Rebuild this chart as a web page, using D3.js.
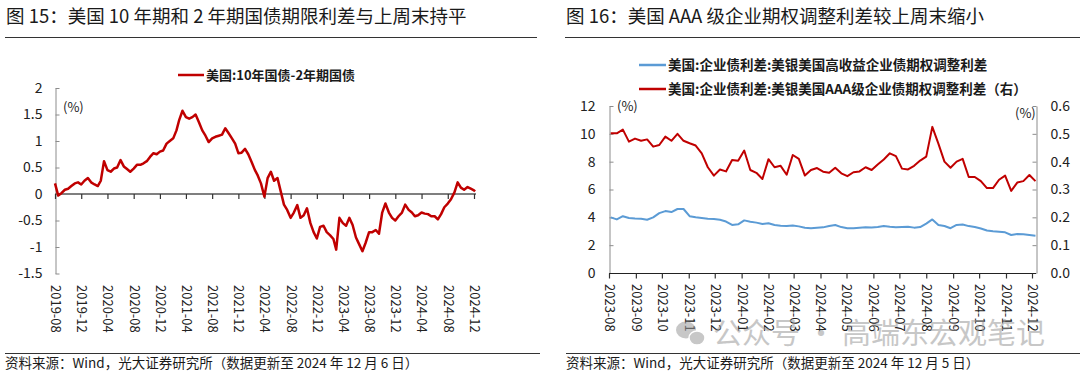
<!DOCTYPE html>
<html><head><meta charset="utf-8">
<script src="https://cdn.jsdelivr.net/npm/d3@7"></script>
<style>
body{margin:0;background:#fff}
svg{display:block}
text{font-family:"Noto Sans CJK SC","Noto Sans",sans-serif}
</style>
</head><body>
<svg id="c" width="1080" height="372"></svg>
<script>
// ---------------- data ----------------
const leftTitle = "图 15：美国 10 年期和 2 年期国债期限利差与上周末持平";
const leftLegend = "美国:10年国债-2年期国债";
const leftSource = "资料来源：Wind，光大证券研究所（数据更新至 2024 年 12 月 6 日）";
const leftStartMonth = "2019-08";            // semi-monthly observations (1st, 16th)
const leftValues = [
  0.20,-0.03, 0.02,0.08, 0.10,0.15, 0.20,0.22, 0.18,0.25,          // 2019-08..12
  0.30,0.22, 0.18,0.15, 0.25,0.62, 0.45,0.42, 0.48,0.50, 0.64,0.52, // 2020-01..06
  0.47,0.42, 0.48,0.55, 0.55,0.58, 0.62,0.70, 0.77,0.75, 0.80,0.82, // 2020-07..12
  0.95,1.00, 1.05,1.20, 1.40,1.57, 1.45,1.42, 1.45,1.50, 1.35,1.20, // 2021-01..06
  1.10,0.98, 1.05,1.08, 1.10,1.12, 1.24,1.15, 1.05,0.95, 0.77,0.78, // 2021-07..12
  0.85,0.75, 0.60,0.45, 0.35,0.20, -0.05,0.30, 0.42,0.25, 0.30,0.05, // 2022-01..06
  -0.20,-0.30, -0.45,-0.35, -0.21,-0.45, -0.40,-0.27, -0.55,-0.72, -0.84,-0.62, // 2022-07..12
  -0.60,-0.72, -0.78,-0.85, -1.05,-0.45, -0.55,-0.60, -0.45,-0.58, -0.82,-0.95, // 2023-01..06
  -1.08,-0.92, -0.72,-0.72, -0.68,-0.75, -0.35,-0.18, -0.35,-0.45, -0.50,-0.42, // 2023-07..12
  -0.35,-0.20, -0.30,-0.35, -0.42,-0.40, -0.35,-0.37, -0.38,-0.42, -0.42,-0.48, // 2024-01..06
  -0.38,-0.25, -0.18,-0.10, 0.03,0.22, 0.12,0.08, 0.13,0.10,                   // 2024-07..11
  0.07                                                                          // 2024-12-01
];
const leftLastDate = "2024-12-06";
const leftLastValue = 0.05;
const leftXTicks = ["2019-08","2019-12","2020-04","2020-08","2020-12","2021-04","2021-08","2021-12",
  "2022-04","2022-08","2022-12","2023-04","2023-08","2023-12","2024-04","2024-08","2024-12"];
const leftYTicks = [-1.5,-1,-0.5,0,0.5,1,1.5,2];

const rightTitle = "图 16：美国 AAA 级企业期权调整利差较上周末缩小";
const rightLegend = ["美国:企业债利差:美银美国高收益企业债期权调整利差",
                     "美国:企业债利差:美银美国AAA级企业债期权调整利差（右）"];
const rightSource = "资料来源：Wind，光大证券研究所（数据更新至 2024 年 12 月 5 日）";
const rightStartDate = "2023-08-03";          // weekly observations
const highYield = [
  4.00,3.85,4.08,3.95,3.92,3.90,3.83,4.00,4.30,4.45,4.38,4.60,4.60,4.08,4.00,3.95,
  3.90,3.88,3.82,3.70,3.45,3.50,3.78,3.68,3.62,3.52,3.58,3.45,3.40,3.37,3.42,3.35,
  3.25,3.22,3.25,3.28,3.38,3.45,3.30,3.22,3.21,3.25,3.28,3.27,3.30,3.37,3.32,3.28,
  3.30,3.32,3.26,3.30,3.55,3.85,3.45,3.38,3.22,3.45,3.48,3.37,3.30,3.20,3.05,3.00,
  2.97,2.92,2.73,2.80,2.78,2.73,2.68
];
const aaa = [
  0.502,0.502,0.515,0.472,0.483,0.475,0.480,0.454,0.460,0.490,0.475,0.500,0.475,0.466,0.458,0.430,
  0.380,0.350,0.372,0.365,0.406,0.403,0.440,0.370,0.360,0.338,0.409,0.380,0.385,0.353,0.424,0.410,
  0.350,0.370,0.377,0.364,0.360,0.378,0.358,0.348,0.362,0.365,0.380,0.370,0.390,0.408,0.430,0.420,
  0.375,0.372,0.385,0.404,0.418,0.525,0.465,0.400,0.378,0.400,0.410,0.345,0.345,0.330,0.305,0.305,
  0.335,0.350,0.295,0.325,0.330,0.352,0.330
];
const rightXTicks = ["2023-08","2023-09","2023-10","2023-11","2023-12","2024-01","2024-02","2024-03",
  "2024-04","2024-05","2024-06","2024-07","2024-08","2024-09","2024-10","2024-11","2024-12"];
const rightYTicksL = [0,2,4,6,8,10,12];
const rightYTicksR = [0,0.1,0.2,0.3,0.4,0.5,0.6];
const watermark = "公众号 · 高端东宏观笔记";

// ---------------- helpers ----------------
const svg = d3.select("#c");
const pm = d3.utcParse("%Y-%m"), pd = d3.utcParse("%Y-%m-%d");
const RED = "#C00000", BLUE = "#5B9BD5";

const leftData = leftValues.map((v,i)=>({
  date: d3.utcDay.offset(d3.utcMonth.offset(pm(leftStartMonth), Math.floor(i/2)), i%2 ? 15 : 0),
  v
}));
leftData.push({date: pd(leftLastDate), v: leftLastValue});

const rStart = pd(rightStartDate);
const rightData = highYield.map((v,i)=>({date: d3.utcDay.offset(rStart, 7*i), hy: v, aaa: aaa[i]}));
rightData[rightData.length-1].date = pd("2024-12-05");

function rotatedLabels(g){
  g.select(".domain").remove();
  g.selectAll(".tick line").remove();
  g.selectAll(".tick text")
    .attr("transform","rotate(90)")
    .attr("text-anchor","start")
    .attr("x",0).attr("y",0).attr("dy","0.35em")
    .attr("font-size",13).attr("fill","#222");
}

// ---------------- headers ----------------
function header(x0, x1, title){
  svg.append("text").attr("x",x0+1).attr("y",23).attr("font-size",18.5).attr("fill","#1a1a1a").text(title);
  svg.append("line").attr("x1",x0).attr("x2",x1).attr("y1",37.5).attr("y2",37.5).attr("stroke","#333").attr("stroke-width",1);
}
function footer(x0, x1, txt){
  svg.append("line").attr("x1",x0).attr("x2",x1).attr("y1",353.5).attr("y2",353.5).attr("stroke","#333").attr("stroke-width",1);
  svg.append("text").attr("x",x0).attr("y",368).attr("font-size",13.5).attr("fill","#1a1a1a").text(txt);
}
header(5, 537, leftTitle);
header(565, 1080, rightTitle);
footer(5, 540, leftSource);
footer(566, 1080, rightSource);

// ---------------- left chart ----------------
{
  const x = d3.scaleUtc().domain([pm("2019-08"), pm("2024-12")]).range([55, 474]);
  const y = d3.scaleLinear().domain([-1.5, 2]).range([273.5, 88]);

  const ya = svg.append("g").attr("transform","translate(55.5,0)")
    .call(d3.axisLeft(y).tickValues(leftYTicks).tickSizeInner(-4).tickSizeOuter(0).tickPadding(13).tickFormat(d=>String(d)));
  ya.select(".domain").attr("stroke","#8c8c8c");
  ya.selectAll(".tick line").attr("stroke","#8c8c8c");
  ya.selectAll(".tick text").attr("font-size",14).attr("fill","#222");

  const xa = svg.append("g").attr("transform",`translate(0,${y(0)})`)
    .call(d3.axisBottom(x).tickValues(leftXTicks.map(pm)).tickSizeInner(5).tickSizeOuter(0).tickFormat(""));
  xa.select(".domain").attr("stroke","#7f7f7f").attr("stroke-width",2).attr("d",`M55,0H476`);
  xa.selectAll(".tick line").attr("stroke","#333").attr("stroke-width",1.2);

  svg.append("g").attr("transform","translate(0,285)")
    .call(d3.axisBottom(x).tickValues(leftXTicks.map(pm)).tickSize(0).tickFormat(d3.utcFormat("%Y-%m")))
    .call(rotatedLabels);

  svg.append("text").attr("x",63).attr("y",112).attr("font-size",13).attr("fill","#222").text("(%)");

  svg.append("path").datum(leftData)
    .attr("fill","none").attr("stroke",RED).attr("stroke-width",2.5).attr("stroke-linejoin","round")
    .attr("d", d3.line().x(d=>x(d.date)).y(d=>y(d.v)));

  svg.append("line").attr("x1",178).attr("x2",204).attr("y1",75).attr("y2",75).attr("stroke",RED).attr("stroke-width",2.5);
  svg.append("text").attr("x",206).attr("y",80).attr("font-size",13).attr("font-weight","bold").attr("fill","#1a1a1a").text(leftLegend);
}

// ---------------- right chart ----------------
{
  const x = d3.scaleUtc().domain([pm("2023-08"), pm("2024-12")]).range([609, 1032]);
  const yL = d3.scaleLinear().domain([0, 12]).range([273, 106]);
  const yR = d3.scaleLinear().domain([0, 0.6]).range([273, 106]);

  const la = svg.append("g").attr("transform","translate(609.5,0)")
    .call(d3.axisLeft(yL).tickValues(rightYTicksL).tickSizeInner(-4).tickSizeOuter(0).tickPadding(14));
  la.select(".domain").attr("stroke","#8c8c8c");
  la.selectAll(".tick line").attr("stroke","#8c8c8c");
  la.selectAll(".tick text").attr("font-size",14).attr("fill","#222");

  const ra = svg.append("g").attr("transform","translate(1036.5,0)")
    .call(d3.axisRight(yR).tickValues(rightYTicksR).tickSizeInner(-4).tickSizeOuter(0).tickPadding(14).tickFormat(d3.format(".1f")));
  ra.select(".domain").attr("stroke","#8c8c8c");
  ra.selectAll(".tick line").attr("stroke","#8c8c8c");
  ra.selectAll(".tick text").attr("font-size",14).attr("fill","#222");

  const xa = svg.append("g").attr("transform","translate(0,273.5)")
    .call(d3.axisBottom(x).tickValues(rightXTicks.map(pm)).tickSizeInner(5).tickSizeOuter(0).tickFormat(""));
  xa.select(".domain").attr("stroke","#222").attr("stroke-width",1.2).attr("d","M609,0H1036");
  xa.selectAll(".tick line").attr("stroke","#333").attr("stroke-width",1.2);

  svg.append("g").attr("transform","translate(0,284)")
    .call(d3.axisBottom(x).tickValues(rightXTicks.map(pm)).tickSize(0).tickFormat(d3.utcFormat("%Y-%m")))
    .call(rotatedLabels);

  svg.append("text").attr("x",617).attr("y",111).attr("font-size",13).attr("fill","#222").text("(%)");
  svg.append("text").attr("x",1015).attr("y",118).attr("font-size",13).attr("fill","#222").text("(%)");

  svg.append("path").datum(rightData)
    .attr("fill","none").attr("stroke",BLUE).attr("stroke-width",2).attr("stroke-linejoin","round")
    .attr("d", d3.line().x(d=>x(d.date)).y(d=>yL(d.hy)));
  svg.append("path").datum(rightData)
    .attr("fill","none").attr("stroke",RED).attr("stroke-width",2).attr("stroke-linejoin","round")
    .attr("d", d3.line().x(d=>x(d.date)).y(d=>yR(d.aaa)));

  [BLUE, RED].forEach((c,i)=>{
    const yy = 65 + i*24;
    svg.append("line").attr("x1",639).attr("x2",666).attr("y1",yy).attr("y2",yy).attr("stroke",c).attr("stroke-width",2.5);
    svg.append("text").attr("x",668).attr("y",yy+5).attr("font-size",13.5).attr("font-weight","bold").attr("fill","#1a1a1a").text(rightLegend[i]);
  });
}

// ---------------- watermark ----------------
{
  const wm = svg.append("g").attr("opacity",0.55).attr("fill","#9a9a9a");
  wm.append("ellipse").attr("cx",686).attr("cy",330).attr("rx",10).attr("ry",8.5);
  wm.append("ellipse").attr("cx",697).attr("cy",338).attr("rx",8).attr("ry",7).attr("stroke","#fff").attr("stroke-width",1.5);
  wm.append("text").attr("x",713).attr("y",344).attr("font-size",29).text(watermark);
}
</script>
</body></html>
